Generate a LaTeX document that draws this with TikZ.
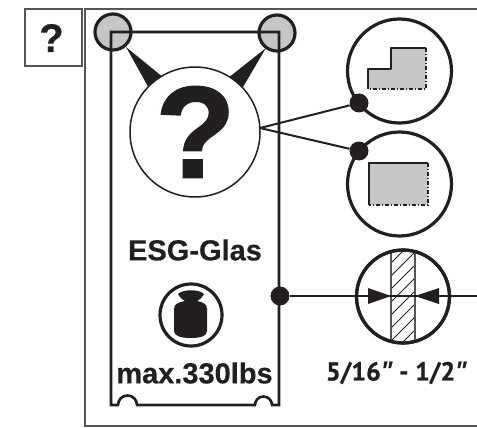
\documentclass[tikz,border=0pt]{standalone}
\usepackage{fontspec}
\setmainfont{Liberation Sans}[BoldFeatures={FakeBold=0.4}]
\newfontfamily\heavyfont{Liberation Sans}[BoldFeatures={FakeBold=1.6}]
\newfontfamily\labelfont{PT Sans}[BoldFeatures={FakeBold=0.8}]
\newfontfamily\quotefont{Open Sans}
\definecolor{ink}{HTML}{231F20}
\definecolor{fillgray}{HTML}{C4C6C8}
\definecolor{framegray}{HTML}{555555}
\newcommand{\dprime}{{\quotefont\bfseries\itshape ″}}
\tikzset{
  x=1pt,y=1pt,
  frameline/.style={draw=framegray,line width=1.4pt},
  inkline/.style={draw=ink,line width=2.6pt,line join=miter},
  thinring/.style={circle,draw=ink,fill=white,line width=1.5pt,inner sep=0pt,minimum size=#1},
  ring/.style={circle,draw=ink,fill=white,line width=3.2pt,inner sep=0pt,minimum size=#1},
  openring/.style={circle,draw=ink,line width=3.2pt,inner sep=0pt,minimum size=#1},
  grayfill/.style={circle,fill=fillgray,inner sep=0pt,minimum size=36pt},
  dot/.style={circle,fill=ink,inner sep=0pt,minimum size=19pt},
  boldtext/.style={text=ink,inner sep=0pt},
  leader/.style={draw=ink,line width=2pt},
  profile/.style={fill=fillgray},
  dashedge/.style={draw=ink,line width=1.2pt,dash pattern=on 4pt off 2pt on 1pt off 2pt},
  hatchline/.style={draw=ink,line width=.9pt},
}
\begin{document}
\begin{tikzpicture}
\useasboundingbox (0,0) rectangle (477,-428);
% outer frames
\draw[frameline] (25,-9) rectangle (82,-66);
\draw[frameline] (477,-9) -- (85,-9) -- (85,-426) -- (477,-426);
\node[boldtext,font=\fontsize{40}{40}\bfseries] (qmark) at (51.5,-38) {?};
% mounting points (fill below the plate)
\node[grayfill] (pinL) at (113,-32) {};
\node[grayfill] (pinR) at (277,-33) {};
% plate
\draw[inkline] (111,-32) -- (279,-32) -- (279,-405) -- (272,-405)
  arc[start angle=0,end angle=180,radius=8.5] -- (137,-405)
  arc[start angle=0,end angle=180,radius=9.5] -- (111,-405) -- cycle;
\node[openring=36pt] (ringL) at (113,-32) {};
\node[openring=36pt] (ringR) at (277,-33) {};
\fill[ink] (126,-47) -- (164,-78) -- (151,-92) -- cycle;
\fill[ink] (266,-48) -- (228,-78) -- (240,-92) -- cycle;
% main circle
\node[thinring=130pt] (main) at (195,-132) {};
\node[boldtext,font=\heavyfont\bfseries\fontsize{130}{130}\selectfont] (bigq) at (195.5,-132) {?};
% detail circles
\node[ring=104pt] (det1) at (399.5,-71) {};
\node[ring=104pt] (det2) at (399.5,-184) {};
\node[dot] (dot1) at (359,-103) {};
\node[dot] (dot2) at (359,-151) {};
\coordinate (fork) at (260,-128);
\draw[leader] (fork) -- (dot1);
\draw[leader] (fork) -- (dot2);
% profile 1
\fill[profile] (368,-69) -- (391,-69) -- (391,-48) -- (426,-48) -- (426,-89) -- (368,-89) -- cycle;
\draw[ink,line width=2.2pt,line join=round] (368,-89) -- (368,-69) -- (391,-69) -- (391,-48) -- (426,-48);
\draw[dashedge] (426,-48) -- (426,-89) -- (368,-89);
% profile 2
\fill[profile] (369,-163) rectangle (428,-205);
\draw[ink,line width=2.2pt] (369,-205) -- (369,-163) -- (428,-163);
\draw[dashedge] (428,-163) -- (428,-205) -- (369,-205);
% thickness circle
\node[ring=93pt] (det3) at (403,-296.5) {};
\begin{scope}
\clip (391,-250) rectangle (415,-343);
\foreach \o in {-20,-7,...,110} {
  \draw[hatchline] (385,-250-\o) -- (421,-250-\o+36);
}
\end{scope}
\draw[framegray,line width=1.8pt] (391,-252) -- (391,-341);
\draw[framegray,line width=1.8pt] (415,-252) -- (415,-341);
\node[openring=93pt] (det3ring) at (403,-296.5) {};
\node[dot] (dot3) at (280,-296) {};
\coordinate (rightend) at (477,-296);
\draw[leader] (dot3) -- (rightend);
\fill[ink] (391,-296) -- (368,-288) -- (368,-304) -- cycle;
\fill[ink] (415,-296) -- (439,-288) -- (439,-304) -- cycle;
% weight
\node[openring=62pt] (weight) at (191,-315) {};
\fill[ink] (178,-294) .. controls (183,-289) and (199,-289) .. (204,-294)
  .. controls (202,-298) and (199,-300) .. (197,-301)
  .. controls (203,-302) and (207,-304) .. (207,-309)
  -- (207,-331) .. controls (207,-336) and (201,-338) .. (191,-338)
  .. controls (181,-338) and (174,-336) .. (174,-331)
  -- (174,-309) .. controls (174,-304) and (179,-302) .. (185,-301)
  .. controls (183,-300) and (180,-298) .. (178,-294) -- cycle;
% labels
\node[boldtext,font=\bfseries\fontsize{29}{29}\selectfont] (glass) at (195,-250) {ESG-Glas};
\node[boldtext,font=\bfseries\fontsize{29}{29}\selectfont] (maxload) at (194.5,-373) {max.330lbs};
\node[boldtext,font=\labelfont\bfseries\fontsize{26}{26}\selectfont] (range) at (396.5,-373) {5/16\dprime{} - 1/2\dprime};
\end{tikzpicture}
\end{document}
